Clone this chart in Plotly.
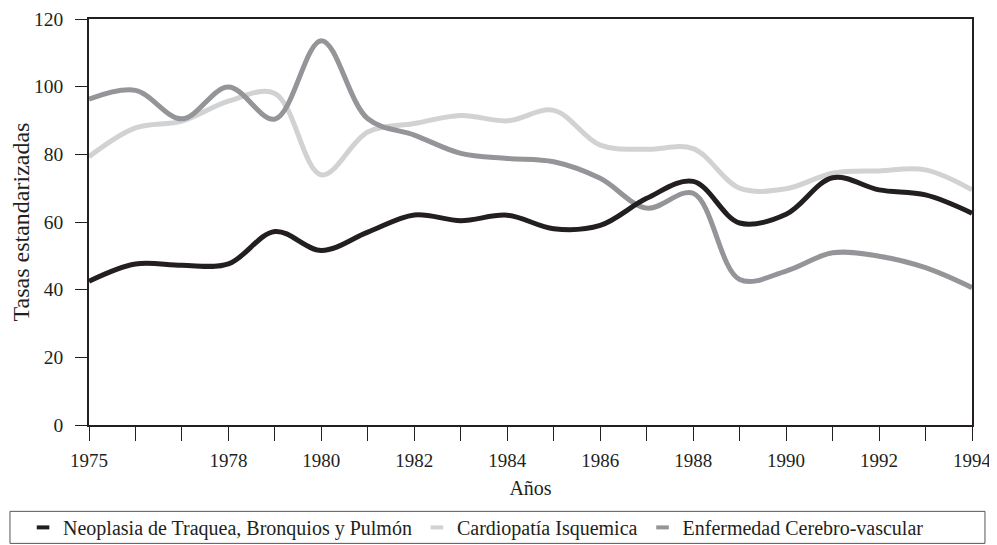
import plotly.graph_objects as go

# Tick positions (one per year slot) and their labels as printed on the chart
x_idx = list(range(20))
tick_labels = ["1975", "", "", "1978", "", "1980", "", "1982", "", "1984",
               "", "1986", "", "1988", "", "1990", "", "1992", "", "1994"]

neoplasia = [42.5, 47.6, 47.2, 47.6, 57.2, 51.6, 57.0, 62.1, 60.4, 62.0,
             58.0, 59.0, 67.0, 72.0, 59.7, 62.3, 73.1, 69.5, 68.0, 62.6]
cardiopatia = [79.3, 87.8, 89.8, 95.7, 98.0, 73.9, 86.6, 89.1, 91.5, 89.9,
               93.0, 82.7, 81.5, 81.7, 70.0, 69.8, 74.4, 75.1, 75.4, 69.5]
cerebro = [96.3, 98.9, 90.5, 99.9, 90.4, 113.6, 90.5, 85.7, 80.3, 78.8,
           77.8, 72.9, 64.1, 68.5, 43.0, 45.5, 50.9, 49.9, 46.5, 40.6]

names = ["Neoplasia de Traquea, Bronquios y Pulmón",
         "Cardiopatía Isquemica",
         "Enfermedad Cerebro-vascular"]
colors = ["#231f20", "#d1d2d4", "#939598"]
series = [neoplasia, cardiopatia, cerebro]

FONT = "Liberation Serif, Times New Roman, serif"
AXC = "#231f20"

fig = go.Figure()
# draw order: light, mid, black on top (as in reference)
for k in [1, 2, 0]:
    fig.add_trace(go.Scatter(
        x=x_idx, y=series[k], mode="lines", name=names[k],
        line=dict(color=colors[k], width=5, shape="spline", smoothing=1.0),
        showlegend=False, legendgroup=names[k], hoverinfo="x+y"))
for k in range(3):
    fig.add_trace(go.Scatter(
        x=[None], y=[None], mode="markers", name=names[k], legendgroup=names[k],
        marker=dict(symbol="line-ew", size=9, color=colors[k],
                    line=dict(width=4, color=colors[k]))))

fig.update_layout(
    width=997, height=545,
    margin=dict(l=81, r=33, t=11, b=128.3, autoexpand=False),
    paper_bgcolor="white", plot_bgcolor="white",
    font=dict(family=FONT, size=20, color=AXC),
    showlegend=True,
    legend=dict(orientation="h", x=-0.0747, xanchor="left", y=-0.2522,
                yanchor="middle", bgcolor="rgba(0,0,0,0)", borderwidth=0,
                font=dict(family=FONT, size=20, color=AXC), itemwidth=30,
                traceorder="normal"),
    shapes=[dict(type="rect", xref="paper", yref="paper",
                 x0=-0.0895, x1=1.0147, y0=-0.2916, y1=-0.2127,
                 line=dict(color="#555555", width=1), fillcolor="rgba(0,0,0,0)")],
)

fig.update_xaxes(
    range=[0, 19], tickmode="array", tickvals=x_idx, ticktext=tick_labels,
    ticks="outside", ticklen=14, tickwidth=1.2, tickcolor=AXC,
    showline=True, linecolor=AXC, linewidth=1.5, mirror=True,
    showgrid=False, zeroline=False, automargin=False, ticklabelstandoff=3,
    ticklabeloverflow="allow",
    tickfont=dict(family=FONT, size=19, color=AXC),
    title=dict(text="Años", font=dict(family=FONT, size=20, color=AXC), standoff=11),
)
fig.update_yaxes(
    range=[0, 120], tickmode="array", tickvals=[0, 20, 40, 60, 80, 100, 120],
    ticks="outside", ticklen=12, tickwidth=1.2, tickcolor=AXC,
    showline=True, linecolor=AXC, linewidth=1.5, mirror=True,
    showgrid=False, zeroline=False, automargin=False, ticklabelstandoff=8,
    ticklabeloverflow="allow",
    tickfont=dict(family=FONT, size=19.5, color=AXC),
    title=dict(text="Tasas estandarizadas", font=dict(family=FONT, size=24, color=AXC), standoff=2),
)

fig.write_html("out.html")
